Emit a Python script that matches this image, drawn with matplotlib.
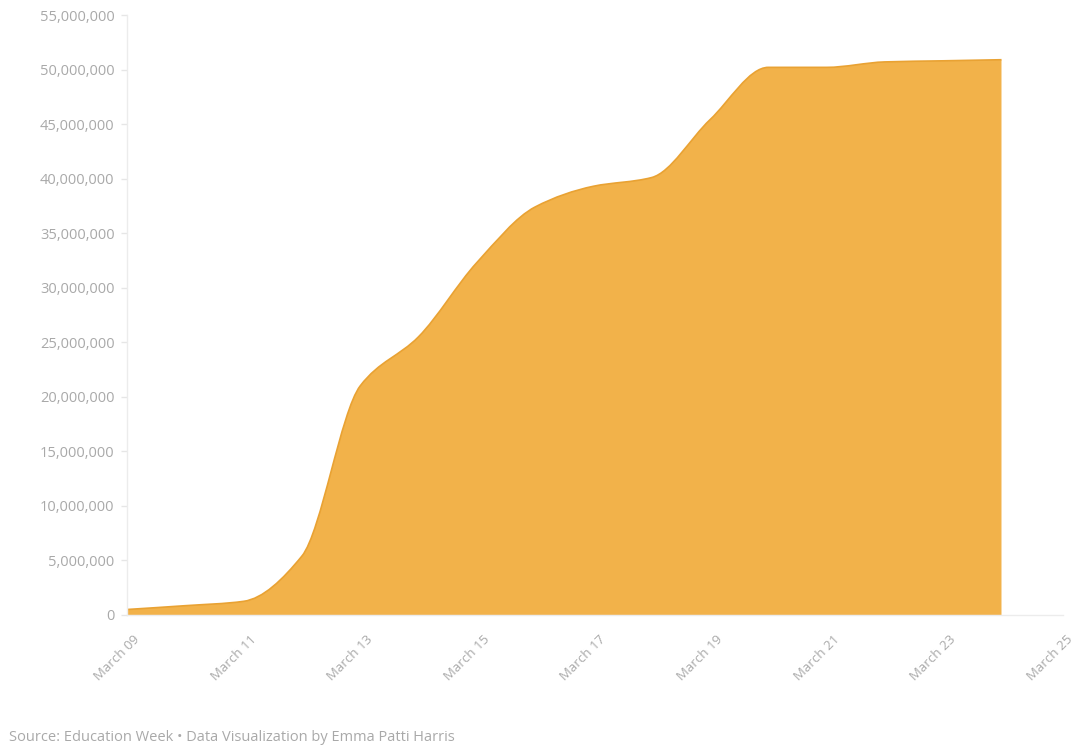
import numpy as np
import matplotlib
matplotlib.use("Agg")
import matplotlib.pyplot as plt
import matplotlib.transforms as mtransforms
from matplotlib.path import Path
from matplotlib.patches import PathPatch
from matplotlib.ticker import FuncFormatter

plt.rcParams['font.family'] = ['Open Sans', 'DejaVu Sans']

# cumulative students affected by school closures, one value per day from March 09
days = [9, 10, 11, 12, 13, 14, 15, 16, 17, 18, 19, 20, 21, 22, 23, 24]
students = [0.5e6, 0.85e6, 1.25e6, 5.4e6, 21.0e6, 25.5e6, 32.3e6, 37.4e6,
            39.3e6, 40.1e6, 45.4e6, 50.2e6, 50.2e6, 50.7e6, 50.8e6, 50.9e6]

tick_days = [9, 11, 13, 15, 17, 19, 21, 23, 25]
tick_labels = [f"March {d:02d}" for d in tick_days]
y_ticks = list(range(0, 55_000_001, 5_000_000))

FILL = '#F2B24A'
EDGE = '#E9A233'
GREY = '#a9a9a9'


def monotone_path(x, y):
    # monotone cubic (Fritsch-Carlson) curve through the points, as bezier segments
    x = np.asarray(x, float)
    y = np.asarray(y, float)
    h = np.diff(x)
    d = np.diff(y) / h
    m = np.zeros_like(y)
    m[0], m[-1] = d[0], d[-1]
    for i in range(1, len(y) - 1):
        if d[i - 1] * d[i] <= 0:
            m[i] = 0
        else:
            w1 = 2 * h[i] + h[i - 1]
            w2 = h[i] + 2 * h[i - 1]
            m[i] = (w1 + w2) / (w1 / d[i - 1] + w2 / d[i])
    verts = [(x[0], y[0])]
    codes = [Path.MOVETO]
    for i in range(len(x) - 1):
        verts += [(x[i] + h[i] / 3, y[i] + m[i] * h[i] / 3),
                  (x[i + 1] - h[i] / 3, y[i + 1] - m[i + 1] * h[i] / 3),
                  (x[i + 1], y[i + 1])]
        codes += [Path.CURVE4] * 3
    return verts, codes


fig = plt.figure(figsize=(10.73, 7.54), dpi=100)
ax = fig.add_axes([0.1184, 0.1844, 0.8720, 0.7957])

verts, codes = monotone_path(days, students)
area = verts + [(days[-1], 0), (days[0], 0), verts[0]]
area_codes = codes + [Path.LINETO, Path.LINETO, Path.CLOSEPOLY]
ax.add_patch(PathPatch(Path(area, area_codes), facecolor=FILL, edgecolor='none'))
ax.add_patch(PathPatch(Path(verts, codes), facecolor='none', edgecolor=EDGE, lw=1.2))

ax.set_xlim(9, 25.05)
ax.set_ylim(0, 55_000_000)

ax.set_xticks(tick_days)
ax.set_xticklabels(tick_labels, rotation=45, ha='right', rotation_mode='anchor')
ax.set_yticks(y_ticks)
ax.yaxis.set_major_formatter(FuncFormatter(lambda v, p: f"{int(v):,}"))

for s in ['top', 'right']:
    ax.spines[s].set_visible(False)
for s in ['left', 'bottom']:
    ax.spines[s].set_color('#ececec')
    ax.spines[s].set_linewidth(1)

ax.tick_params(axis='y', colors='#e6e6e6', labelcolor=GREY, labelsize=10.5,
               length=4, width=1, pad=5)
ax.tick_params(axis='x', colors='#e6e6e6', labelcolor=GREY, labelsize=9.5,
               length=0, pad=10)

# nudge the slanted date labels to the right of their ticks
shift = mtransforms.ScaledTranslation(0.06, -0.04, fig.dpi_scale_trans)
for lab in ax.get_xticklabels():
    lab.set_transform(lab.get_transform() + shift)

fig.text(0.008, 0.012, "Source: Education Week \u2022 Data Visualization by Emma Patti Harris",
         color=GREY, fontsize=10.5, ha='left', va='bottom')

fig.savefig('out.png', dpi=100)
